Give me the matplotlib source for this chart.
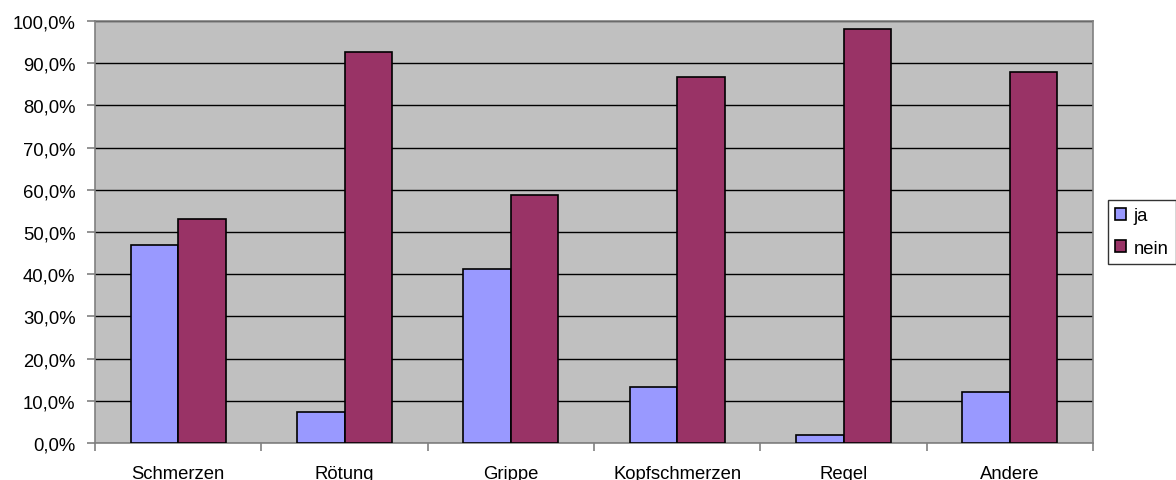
import matplotlib
matplotlib.use("Agg")
import matplotlib.pyplot as plt
import numpy as np
from matplotlib.ticker import FuncFormatter

plt.rcParams['font.family'] = ['Liberation Sans', 'DejaVu Sans']

# Anteile in Prozent
kategorien = ["Schmerzen", "Rötung", "Grippe", "Kopfschmerzen", "Regel", "Andere"]
ja = [47.0, 7.3, 41.2, 13.2, 1.9, 12.1]
nein = [53.0, 92.7, 58.8, 86.8, 98.1, 87.9]

fig = plt.figure(figsize=(11.76, 4.81), dpi=100)
ax = fig.add_axes([95/1176, 37/481, 998/1176, 422/481])
ax.set_facecolor("#C0C0C0")

x = np.arange(len(kategorien))
w = 0.285
ax.bar(x - w/2, ja, w, color="#9999FF", edgecolor="black", linewidth=1.2, label="ja", zorder=3)
ax.bar(x + w/2, nein, w, color="#993366", edgecolor="black", linewidth=1.2, label="nein", zorder=3)

ax.set_xlim(-0.5, len(kategorien) - 0.5)
ax.set_ylim(0, 100)
ax.set_yticks(np.arange(0, 101, 10))
ax.yaxis.set_major_formatter(FuncFormatter(lambda v, p: f"{v:.1f}%".replace(".", ",")))
ax.grid(axis="y", color="black", linewidth=1, zorder=1)

# Teilstriche zwischen den Kategorien, Beschriftung in der Mitte
ax.set_xticks(np.arange(-0.5, len(kategorien)), minor=False)
ax.set_xticklabels([])
ax.set_xticks(x, minor=True)
ax.set_xticklabels(kategorien, minor=True)
ax.tick_params(axis="x", which="major", length=6, color="#808080", width=1.2)
ax.tick_params(axis="x", which="minor", length=0, pad=16, labelsize=13.3)
ax.tick_params(axis="y", length=6, color="#808080", width=1.2, labelsize=13.3, pad=8)

for s in ax.spines.values():
    s.set_color("#808080")
    s.set_linewidth(1.2)

fig.legend(loc="center left", bbox_to_anchor=(1108/1176, 1 - 233/481), frameon=True,
           fancybox=False, edgecolor="black", fontsize=13.3, handlelength=0.6,
           handleheight=0.6, handletextpad=0.4, borderpad=0.4, labelspacing=0.85,
           borderaxespad=0)

fig.savefig("out.png", dpi=100)
